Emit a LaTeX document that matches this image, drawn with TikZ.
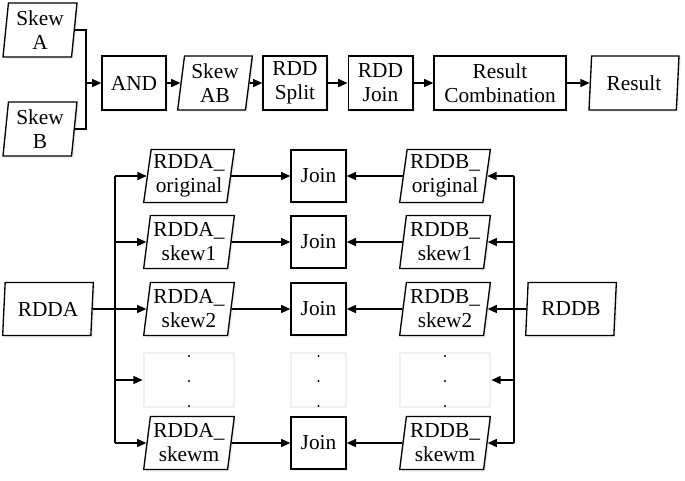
\documentclass[tikz,border=0pt]{standalone}
\usepackage{fontspec}
\setmainfont{Liberation Serif}
\usetikzlibrary{shapes.geometric,arrows.meta,shadows}
\begin{document}
\begin{tikzpicture}[x=0.75pt,y=-0.75pt,
  every node/.style={font=\fontsize{16}{18}\selectfont, align=center, inner sep=0pt},
  shad/.style={drop shadow={opacity=0.12,shadow xshift=1.5pt,shadow yshift=-1.5pt}},
  procbox/.style={draw, line width=1pt, fill=white, rectangle, minimum height=40.5pt, shad},
  iobox/.style={draw, line width=1pt, fill=white, trapezium, trapezium left angle=80, trapezium right angle=100,
     trapezium stretches body, minimum width=68pt, minimum height=39.75pt, shad},
  ghost/.style={draw=black!6, line width=1.5pt, trapezium, trapezium left angle=80, trapezium right angle=100,
     trapezium stretches body, minimum width=68pt, minimum height=41pt},
  conn/.style={line width=1.2pt},
  arr/.style={line width=1.2pt, -{Triangle[length=7pt,width=6pt]}}
]
\useasboundingbox (0,0) rectangle (685,480);
% ---------- top row ----------
\node[iobox, trapezium left angle=82, trapezium right angle=98, minimum width=55.5pt, minimum height=40.5pt] (skA) at (40,30) {Skew\\A};
\node[iobox, trapezium left angle=82, trapezium right angle=98, minimum width=55.5pt, minimum height=40.5pt] (skB) at (40,129) {Skew\\B};
\node[procbox, minimum width=48pt] (and) at (134,83) {AND};
\node[iobox, minimum width=56pt, minimum height=40.5pt] (skAB) at (215,83) {Skew\\AB};
\node[procbox, minimum width=48pt] (split) at (295,83) {RDD\\Split};
\node[procbox, minimum width=48.5pt] (rjoin) at (380.5,83) {RDD\\Join};
\node[procbox, minimum width=99pt] (comb) at (500,83) {Result\\Combination};
\node[iobox, minimum width=67.5pt, minimum height=40.5pt] (res) at (634,83) {Result};
\coordinate (jab) at (86,83);
\draw[conn] (skA.east) -| (jab);
\draw[conn] (skB.east) -| (jab);
\draw[arr] (jab) -- (and.west);
\draw[arr] (and.east) -- (skAB.west);
\draw[arr] (skAB.east) -- (split.west);
\draw[arr] (split.east) -- (rjoin.west);
\draw[arr] (rjoin.east) -- (comb.west);
\draw[arr] (comb.east) -- (res.west);
% ---------- lower part ----------
\node[iobox] (rdda) at (48,309) {RDDA};
\node[iobox] (rddb) at (571,309) {RDDB};
\node[iobox] (ra1) at (189,176) {RDDA\_\\original};
\node[iobox] (ra2) at (189,242) {RDDA\_\\skew1};
\node[iobox] (ra3) at (189,309) {RDDA\_\\skew2};
\node[ghost] (ra4) at (189,380) {};
\node[iobox] (ra5) at (189,443) {RDDA\_\\skewm};
\node[iobox] (rb1) at (445,176) {RDDB\_\\original};
\node[iobox] (rb2) at (445,242) {RDDB\_\\skew1};
\node[iobox] (rb3) at (445,309) {RDDB\_\\skew2};
\node[ghost] (rb4) at (445,380) {};
\node[iobox] (rb5) at (445,443) {RDDB\_\\skewm};
\foreach \i/\y in {1/176,2/242,3/309,5/443}{
  \node[procbox, minimum width=41.25pt, minimum height=39pt] (j\i) at (318.5,\y) {Join};
}
\node[draw=black!6, line width=1.5pt, rectangle, minimum width=41.25pt, minimum height=41pt] (j4) at (318.5,380) {};
\foreach \x in {189,318.5,445}{
  \foreach \y in {356,381,406}{
    \fill (\x,\y) circle (0.9pt);
  }
}
% A fan
\coordinate (a1) at (115,176);
\coordinate (a2) at (115,242);
\coordinate (a4) at (115,380);
\coordinate (a5) at (115,443);
\draw[conn] (a1) -- (a5);
\draw[arr] (a1) -- (ra1.west);
\draw[arr] (a2) -- (ra2.west);
\draw[arr] (rdda.east) -- (ra3.west);
\draw[arr] (a4) -- (ra4.west);
\draw[arr] (a5) -- (ra5.west);
% B fan
\coordinate (b1) at (514,176);
\coordinate (b2) at (514,242);
\coordinate (b4) at (514,380);
\coordinate (b5) at (514,443);
\draw[conn] (b1) -- (b5);
\draw[arr] (b1) -- (rb1.east);
\draw[arr] (b2) -- (rb2.east);
\draw[arr] (rddb.west) -- (rb3.east);
\draw[arr] (b4) -- (rb4.east);
\draw[arr] (b5) -- (rb5.east);
% joins
\foreach \i in {1,2,3,5}{
  \draw[arr] (ra\i.east) -- (j\i.west);
  \draw[arr] (rb\i.west) -- (j\i.east);
}
\end{tikzpicture}
\end{document}
